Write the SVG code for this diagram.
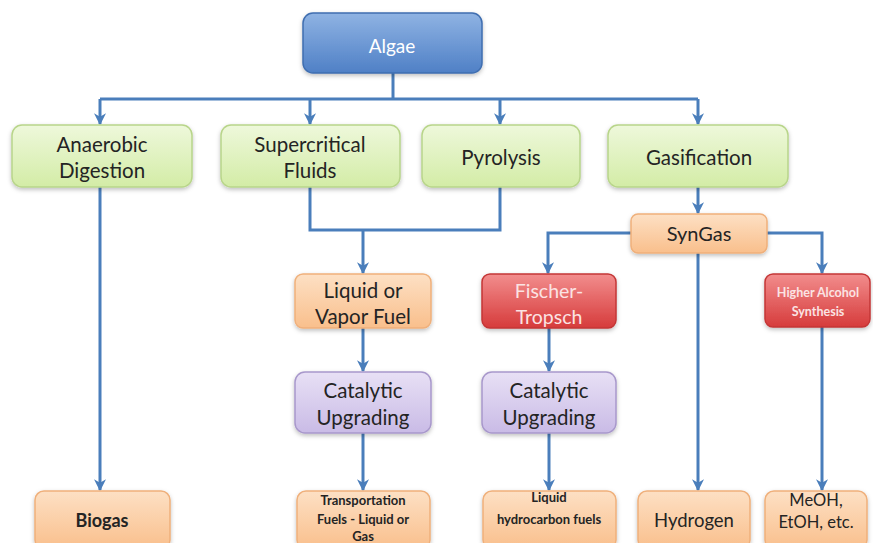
<svg xmlns="http://www.w3.org/2000/svg" width="873" height="543" viewBox="0 0 873 543">
  <defs>
    <linearGradient id="gBlue" x1="0" y1="0" x2="0" y2="1">
      <stop offset="0" stop-color="#8fb3e3"/>
      <stop offset="1" stop-color="#4f80c6"/>
    </linearGradient>
    <linearGradient id="gGreen" x1="0" y1="0" x2="0" y2="1">
      <stop offset="0" stop-color="#eef8db"/>
      <stop offset="1" stop-color="#d3eca6"/>
    </linearGradient>
    <linearGradient id="gOrange" x1="0" y1="0" x2="0" y2="1">
      <stop offset="0" stop-color="#fde0c4"/>
      <stop offset="1" stop-color="#f9bf8c"/>
    </linearGradient>
    <linearGradient id="gPurple" x1="0" y1="0" x2="0" y2="1">
      <stop offset="0" stop-color="#e8e0f5"/>
      <stop offset="1" stop-color="#c9bbe6"/>
    </linearGradient>
    <linearGradient id="gRed" x1="0" y1="0" x2="0" y2="1">
      <stop offset="0" stop-color="#f28d8d"/>
      <stop offset="1" stop-color="#d63b3b"/>
    </linearGradient>
    <filter id="shadow" x="-10%" y="-10%" width="120%" height="130%">
      <feDropShadow dx="0" dy="2" stdDeviation="2" flood-color="#000" flood-opacity="0.25"/>
    </filter>
    <marker id="arrow" viewBox="0 0 10 10" refX="9" refY="5" markerWidth="4" markerHeight="4" orient="auto" markerUnits="strokeWidth">
      <path d="M0,0 L10,5 L0,10 L3,5 z" fill="#4a7ebb"/>
    </marker>
    <style>
      .box { stroke-width: 1.5; filter: url(#shadow); }
      .blue { fill: url(#gBlue); stroke: #3f6eb0; }
      .green { fill: url(#gGreen); stroke: #b8d58a; }
      .orange { fill: url(#gOrange); stroke: #efb07b; }
      .purple { fill: url(#gPurple); stroke: #a898cb; }
      .red { fill: url(#gRed); stroke: #c43636; }
      text { font-family: "Lato", "Open Sans", sans-serif; text-anchor: middle; fill: #242424; font-size: 20.5px; }
      .lt { fill: #ffffff; }
      .pk { fill: #fbe3e3; }
      .sm { font-size: 13px; font-weight: bold; }
      .conn { fill: none; stroke: #4a7ebb; stroke-width: 3; }
      .arr { marker-end: url(#arrow); }
    </style>
  </defs>

  <!-- connectors -->
  <g id="connectors">
    <path class="conn" d="M393,73 V99"/>
    <path class="conn" d="M100,99 H698"/>
    <path class="conn arr" d="M100,99 V124"/>
    <path class="conn arr" d="M310,99 V124"/>
    <path class="conn arr" d="M500,99 V124"/>
    <path class="conn arr" d="M698,99 V124"/>
    <path class="conn arr" d="M100,187 V490"/>
    <path class="conn" d="M310,187 V230 H500 V187"/>
    <path class="conn arr" d="M363,230 V273"/>
    <path class="conn arr" d="M698,187 V213"/>
    <path class="conn arr" d="M631,233 H548 V273"/>
    <path class="conn arr" d="M767,233 H822 V273"/>
    <path class="conn arr" d="M698,253 V490"/>
    <path class="conn arr" d="M363,328 V371"/>
    <path class="conn arr" d="M549,328 V371"/>
    <path class="conn arr" d="M363,433 V490"/>
    <path class="conn arr" d="M549,433 V490"/>
    <path class="conn arr" d="M822,327 V490"/>
  </g>

  <g id="algae">
    <rect class="box blue" x="303" y="13" width="179" height="60" rx="10"/>
    <text class="lt" x="392" y="53" style="font-size:19px">Algae</text>
  </g>

  <g id="anaerobic">
    <rect class="box green" x="12" y="125" width="180" height="62" rx="10"/>
    <text x="102" y="152">Anaerobic</text>
    <text x="102" y="178">Digestion</text>
  </g>

  <g id="supercritical">
    <rect class="box green" x="221" y="125" width="179" height="62" rx="10"/>
    <text x="310" y="152">Supercritical</text>
    <text x="310" y="178">Fluids</text>
  </g>

  <g id="pyrolysis">
    <rect class="box green" x="422" y="125" width="158" height="62" rx="10"/>
    <text x="501" y="165">Pyrolysis</text>
  </g>

  <g id="gasification">
    <rect class="box green" x="608" y="125" width="180" height="62" rx="10"/>
    <text x="699" y="165">Gasification</text>
  </g>

  <g id="syngas">
    <rect class="box orange" x="631" y="214" width="136" height="39" rx="7"/>
    <text x="699" y="241" style="font-size:20px">SynGas</text>
  </g>

  <g id="liquid-vapor">
    <rect class="box orange" x="295" y="274" width="136" height="54" rx="8"/>
    <text x="363" y="298">Liquid or</text>
    <text x="363" y="324">Vapor Fuel</text>
  </g>

  <g id="fischer">
    <rect class="box red" x="482" y="274" width="134" height="54" rx="8"/>
    <text class="pk" x="549" y="298" style="font-size:19.5px">Fischer-</text>
    <text class="pk" x="549" y="324" style="font-size:19.5px">Tropsch</text>
  </g>

  <g id="higher-alcohol">
    <rect class="box red" x="765" y="274" width="105" height="53" rx="8"/>
    <text class="pk sm" x="818" y="297" style="font-size:12.5px">Higher Alcohol</text>
    <text class="pk sm" x="818" y="316" style="font-size:12.5px">Synthesis</text>
  </g>

  <g id="catalytic-1">
    <rect class="box purple" x="295" y="372" width="136" height="61" rx="10"/>
    <text x="363" y="398">Catalytic</text>
    <text x="363" y="425">Upgrading</text>
  </g>

  <g id="catalytic-2">
    <rect class="box purple" x="482" y="372" width="134" height="61" rx="10"/>
    <text x="549" y="398">Catalytic</text>
    <text x="549" y="425">Upgrading</text>
  </g>

  <g id="biogas">
    <rect class="box orange" x="35" y="491" width="135" height="58" rx="9"/>
    <text class="sm" x="102" y="527" style="font-size:18px">Biogas</text>
  </g>

  <g id="transport-fuels">
    <rect class="box orange" x="297" y="491" width="133" height="58" rx="9"/>
    <text class="sm" x="363" y="505">Transportation</text>
    <text class="sm" x="363" y="524">Fuels - Liquid or</text>
    <text class="sm" x="363" y="541">Gas</text>
  </g>

  <g id="liquid-hc">
    <rect class="box orange" x="483" y="491" width="133" height="58" rx="9"/>
    <text class="sm" x="549" y="502">Liquid</text>
    <text class="sm" x="549" y="524">hydrocarbon fuels</text>
  </g>

  <g id="hydrogen">
    <rect class="box orange" x="638" y="491" width="112" height="58" rx="9"/>
    <text x="694" y="527" style="font-size:18.5px">Hydrogen</text>
  </g>

  <g id="meoh">
    <rect class="box orange" x="765" y="491" width="102" height="58" rx="9"/>
    <text x="816" y="506" style="font-size:16.5px">MeOH,</text>
    <text x="816" y="528" style="font-size:16.5px">EtOH, etc.</text>
  </g>
</svg>
